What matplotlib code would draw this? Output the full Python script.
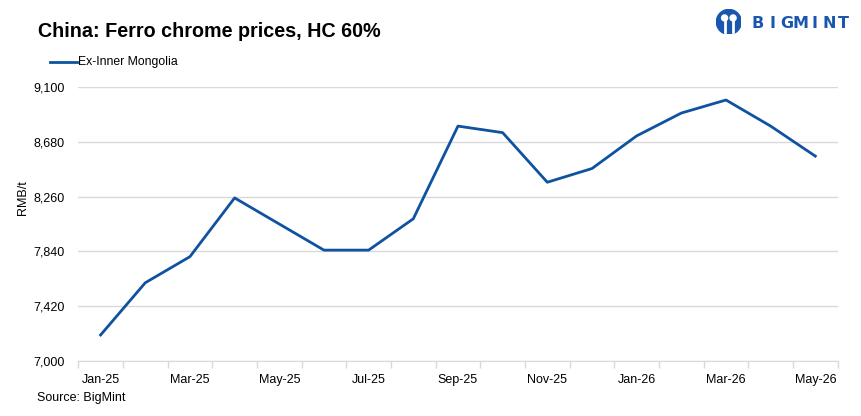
import numpy as np
import matplotlib.pyplot as plt
from matplotlib.patches import Circle

# Data
months = ["Jan-25", "Feb-25", "Mar-25", "Apr-25", "May-25", "Jun-25", "Jul-25",
          "Aug-25", "Sep-25", "Oct-25", "Nov-25", "Dec-25", "Jan-26", "Feb-26",
          "Mar-26", "Apr-26", "May-26"]
prices = [7200, 7600, 7800, 8250, 8050, 7850, 7850, 8090, 8800, 8750,
          8370, 8475, 8725, 8900, 9000, 8800, 8570]
yticks = [7000, 7420, 7840, 8260, 8680, 9100]

line_color = "#0f529f"
logo_color = "#1a56b0"
grid_color = "#d9d9d9"
font = ["Liberation Sans", "DejaVu Sans"]

fig = plt.figure(figsize=(8.61, 4.16), dpi=100)
ax = fig.add_axes([0.0909, 0.132, 0.882, 0.659])

x = np.arange(len(months))
ax.plot(x, prices, color=line_color, lw=2.0, zorder=3)

ax.set_xlim(-0.5, len(months) - 0.5)
ax.set_ylim(7000, 9100)
ax.set_yticks(yticks)
ax.set_yticklabels([f"{v:,}" for v in yticks], family=font, fontsize=9)
ax.tick_params(axis="y", length=0, pad=10)
ax.yaxis.grid(True, color=grid_color, lw=1)
ax.set_axisbelow(True)

# x labels every other month, tick marks at category boundaries
ax.set_xticks(x[::2])
ax.set_xticklabels(months[::2], family=font, fontsize=9)
ax.tick_params(axis="x", which="major", length=0, pad=9)
ax.set_xticks(np.arange(-0.5, len(months) + 0.5, 1), minor=True)
ax.tick_params(axis="x", which="minor", length=5, color=grid_color, width=1)

for s in ["top", "right", "left"]:
    ax.spines[s].set_visible(False)
ax.spines["bottom"].set_color(grid_color)

ax.set_ylabel("RMB/t", family=font, fontsize=9)
ax.yaxis.set_label_coords(-0.065, 0.598)

# title, legend, source
fig.text(0.044, 0.925, "China: Ferro chrome prices, HC 60%", fontsize=14.2,
         fontweight="bold", family=font, va="center")
fig.add_artist(plt.Line2D([0.058, 0.089], [0.851, 0.851], color=line_color, lw=2))
fig.text(0.091, 0.851, "Ex-Inner Mongolia", family=font, fontsize=8.8, va="center")
fig.text(0.043, 0.043, "Source: BigMint", family=font, fontsize=9, va="center")

# logo
logo = fig.add_axes([0.832, 0.916, 0.029, 0.0625])
logo.set_xlim(0, 1)
logo.set_ylim(0, 1)
logo.set_aspect("equal")
logo.axis("off")
logo.add_patch(Circle((0.5, 0.5), 0.5, color=logo_color))
logo.add_patch(Circle((0.33, 0.66), 0.12, color="white"))
logo.add_patch(Circle((0.67, 0.66), 0.12, color="white"))
logo.plot([0.33, 0.33], [0.08, 0.52], color="white", lw=2)
logo.plot([0.67, 0.67], [0.08, 0.52], color="white", lw=2)
for i, ch in enumerate("BIGMINT"):
    fig.text((758 + i * 14.2) / 861, 0.933, ch, fontsize=11.5, fontweight="bold",
             color=logo_color, family=["DejaVu Sans"], va="baseline", ha="center")

fig.savefig("out.png", dpi=100)
